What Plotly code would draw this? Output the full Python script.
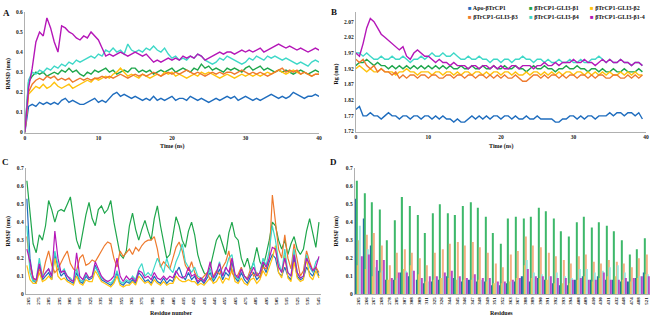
import plotly.graph_objects as go

names = ["Apo-βTrCP1", "βTrCP1-GLI3-β1", "βTrCP1-GLI3-β2",
         "βTrCP1-GLI3-β3", "βTrCP1-GLI3-β4", "βTrCP1-GLI3-β1-4"]
line_colors = ["#1F6DBE", "#1FA64C", "#FFC20E", "#EE7A2E", "#3FD8C8", "#B517B8"]
bar_colors = ["#2463A8", "#3DB86A", "#E3C85A", "#F4B183", "#9FE6DC", "#B84BC8"]

# ---------- Panel A: RMSD vs time ----------
time_a = [i * 0.5 for i in range(81)]
rmsd_apo = [0.0,0.13,0.14,0.13,0.15,0.14,0.15,0.14,0.15,0.14,0.16,0.17,0.15,0.16,0.15,0.14,0.14,0.15,0.16,0.17,0.15,0.16,0.15,0.17,0.19,0.2,0.18,0.19,0.18,0.17,0.18,0.17,0.16,0.17,0.16,0.18,0.16,0.17,0.16,0.17,0.18,0.16,0.17,0.17,0.16,0.18,0.17,0.16,0.17,0.16,0.15,0.16,0.17,0.16,0.17,0.18,0.17,0.18,0.16,0.17,0.18,0.17,0.16,0.17,0.16,0.17,0.18,0.19,0.18,0.17,0.18,0.17,0.18,0.2,0.19,0.18,0.17,0.18,0.18,0.19,0.18]
rmsd_b1 = [0.0,0.25,0.28,0.3,0.29,0.3,0.28,0.29,0.3,0.29,0.31,0.3,0.32,0.3,0.31,0.29,0.28,0.3,0.29,0.31,0.3,0.31,0.32,0.3,0.31,0.29,0.3,0.31,0.3,0.32,0.32,0.3,0.31,0.3,0.31,0.29,0.3,0.31,0.3,0.31,0.32,0.3,0.31,0.32,0.31,0.3,0.32,0.31,0.34,0.32,0.33,0.31,0.32,0.31,0.3,0.32,0.31,0.32,0.31,0.3,0.32,0.33,0.31,0.32,0.33,0.31,0.32,0.31,0.3,0.31,0.3,0.31,0.3,0.29,0.3,0.31,0.3,0.29,0.3,0.31,0.3]
rmsd_b2 = [0.0,0.19,0.21,0.23,0.22,0.24,0.22,0.23,0.25,0.23,0.22,0.23,0.24,0.22,0.23,0.24,0.25,0.26,0.25,0.27,0.26,0.27,0.28,0.27,0.29,0.3,0.32,0.3,0.28,0.29,0.28,0.27,0.29,0.28,0.27,0.28,0.29,0.28,0.3,0.29,0.3,0.28,0.29,0.28,0.27,0.28,0.29,0.28,0.3,0.29,0.3,0.29,0.28,0.27,0.28,0.29,0.28,0.27,0.28,0.29,0.28,0.29,0.28,0.29,0.28,0.29,0.3,0.29,0.3,0.31,0.3,0.29,0.3,0.31,0.3,0.29,0.3,0.29,0.28,0.29,0.29]
rmsd_b3 = [0.0,0.2,0.24,0.26,0.27,0.26,0.28,0.27,0.28,0.26,0.27,0.26,0.27,0.25,0.26,0.27,0.26,0.27,0.26,0.27,0.27,0.28,0.27,0.28,0.27,0.28,0.29,0.28,0.27,0.28,0.29,0.28,0.29,0.28,0.29,0.3,0.29,0.28,0.29,0.3,0.29,0.3,0.29,0.3,0.31,0.3,0.29,0.3,0.29,0.28,0.29,0.3,0.29,0.3,0.29,0.3,0.3,0.29,0.3,0.31,0.3,0.29,0.3,0.29,0.3,0.29,0.28,0.29,0.3,0.31,0.32,0.3,0.31,0.3,0.31,0.29,0.3,0.29,0.28,0.29,0.29]
rmsd_b4 = [0.0,0.26,0.3,0.29,0.31,0.3,0.32,0.31,0.33,0.32,0.34,0.33,0.35,0.34,0.36,0.35,0.36,0.37,0.38,0.37,0.39,0.38,0.41,0.4,0.42,0.4,0.41,0.39,0.44,0.41,0.4,0.41,0.4,0.42,0.41,0.43,0.41,0.4,0.42,0.39,0.37,0.38,0.36,0.37,0.36,0.38,0.37,0.39,0.38,0.36,0.35,0.34,0.35,0.37,0.36,0.38,0.37,0.36,0.35,0.34,0.35,0.37,0.36,0.38,0.37,0.36,0.38,0.37,0.38,0.37,0.36,0.37,0.36,0.35,0.34,0.35,0.34,0.33,0.35,0.36,0.35]
rmsd_b14 = [0.0,0.22,0.32,0.45,0.5,0.48,0.57,0.52,0.45,0.4,0.53,0.52,0.5,0.49,0.47,0.46,0.48,0.47,0.5,0.48,0.46,0.42,0.38,0.39,0.38,0.39,0.4,0.39,0.38,0.39,0.4,0.39,0.38,0.39,0.37,0.35,0.36,0.35,0.36,0.37,0.36,0.37,0.36,0.38,0.37,0.38,0.37,0.39,0.38,0.36,0.37,0.38,0.39,0.4,0.39,0.4,0.4,0.39,0.4,0.41,0.4,0.41,0.4,0.41,0.42,0.4,0.41,0.42,0.43,0.44,0.43,0.42,0.43,0.42,0.41,0.42,0.41,0.4,0.41,0.42,0.41]

# ---------- Panel B: Rg vs time ----------
time_b = [i * 0.5 for i in range(80)]
rg_apo = [1.79,1.8,1.77,1.77,1.78,1.77,1.77,1.76,1.77,1.78,1.77,1.77,1.76,1.77,1.77,1.76,1.77,1.77,1.76,1.77,1.77,1.76,1.77,1.76,1.77,1.76,1.76,1.75,1.76,1.75,1.75,1.76,1.77,1.76,1.77,1.76,1.77,1.76,1.77,1.77,1.76,1.77,1.77,1.76,1.77,1.76,1.76,1.77,1.76,1.76,1.77,1.76,1.76,1.76,1.76,1.75,1.75,1.76,1.76,1.77,1.77,1.76,1.77,1.76,1.77,1.77,1.76,1.77,1.77,1.77,1.78,1.77,1.78,1.78,1.77,1.78,1.78,1.77,1.78,1.76]
rg_b1 = [1.93,1.94,1.94,1.95,1.94,1.93,1.94,1.93,1.93,1.92,1.93,1.92,1.93,1.92,1.93,1.92,1.93,1.92,1.93,1.92,1.93,1.92,1.93,1.92,1.93,1.92,1.93,1.92,1.92,1.93,1.92,1.92,1.93,1.92,1.92,1.93,1.92,1.92,1.93,1.92,1.92,1.93,1.92,1.92,1.93,1.92,1.92,1.91,1.92,1.93,1.92,1.92,1.93,1.92,1.92,1.91,1.92,1.92,1.93,1.92,1.92,1.93,1.92,1.92,1.91,1.92,1.92,1.91,1.92,1.91,1.91,1.92,1.91,1.91,1.92,1.91,1.91,1.91,1.92,1.91]
rg_b2 = [1.92,1.93,1.92,1.91,1.92,1.91,1.91,1.92,1.91,1.91,1.91,1.9,1.91,1.91,1.92,1.91,1.91,1.9,1.91,1.91,1.91,1.9,1.91,1.91,1.9,1.91,1.91,1.9,1.91,1.9,1.91,1.91,1.9,1.91,1.91,1.9,1.91,1.9,1.91,1.91,1.9,1.91,1.91,1.9,1.91,1.9,1.9,1.91,1.9,1.91,1.91,1.9,1.91,1.9,1.91,1.9,1.91,1.9,1.91,1.91,1.9,1.91,1.91,1.9,1.91,1.9,1.91,1.9,1.91,1.9,1.91,1.9,1.9,1.91,1.9,1.91,1.9,1.91,1.9,1.9]
rg_b3 = [1.95,1.94,1.95,1.93,1.92,1.93,1.91,1.92,1.91,1.91,1.9,1.91,1.89,1.9,1.89,1.9,1.9,1.89,1.9,1.9,1.89,1.9,1.9,1.89,1.89,1.9,1.9,1.89,1.9,1.9,1.89,1.9,1.9,1.89,1.9,1.9,1.89,1.9,1.89,1.9,1.89,1.9,1.89,1.89,1.9,1.89,1.88,1.88,1.89,1.9,1.9,1.89,1.9,1.89,1.9,1.9,1.89,1.9,1.89,1.9,1.9,1.89,1.9,1.9,1.89,1.9,1.89,1.9,1.9,1.89,1.89,1.9,1.9,1.89,1.89,1.9,1.89,1.9,1.89,1.9]
rg_b4 = [1.97,1.97,1.96,1.97,1.96,1.95,1.95,1.96,1.95,1.95,1.96,1.95,1.95,1.96,1.95,1.94,1.95,1.95,1.96,1.95,1.96,1.97,1.96,1.96,1.97,1.96,1.96,1.97,1.96,1.95,1.95,1.96,1.95,1.95,1.96,1.95,1.95,1.94,1.95,1.95,1.94,1.95,1.95,1.94,1.95,1.95,1.96,1.95,1.95,1.94,1.95,1.95,1.94,1.95,1.94,1.94,1.95,1.94,1.94,1.95,1.94,1.94,1.95,1.94,1.94,1.95,1.95,1.96,1.95,1.94,1.95,1.94,1.94,1.95,1.94,1.94,1.93,1.94,1.94,1.93]
rg_b14 = [1.97,1.96,2.0,2.05,2.08,2.07,2.05,2.03,2.02,2.01,2.0,1.99,1.98,1.99,1.96,1.95,1.97,1.98,1.97,1.96,1.96,1.95,1.94,1.95,1.94,1.94,1.93,1.94,1.93,1.93,1.93,1.92,1.93,1.93,1.92,1.93,1.93,1.92,1.93,1.92,1.93,1.92,1.92,1.93,1.93,1.92,1.93,1.93,1.93,1.92,1.93,1.93,1.94,1.93,1.93,1.94,1.93,1.94,1.94,1.94,1.95,1.94,1.94,1.95,1.94,1.94,1.93,1.94,1.95,1.94,1.95,1.94,1.94,1.95,1.94,1.94,1.93,1.94,1.94,1.93]

# ---------- Panel C: RMSF per residue ----------
residues_c = list(range(264, 547, 3))
rmsf_apo = [0.53,0.2,0.08,0.06,0.16,0.08,0.1,0.12,0.08,0.22,0.15,0.1,0.12,0.08,0.07,0.06,0.12,0.07,0.06,0.1,0.08,0.09,0.16,0.12,0.08,0.07,0.06,0.05,0.07,0.12,0.06,0.05,0.07,0.06,0.08,0.06,0.12,0.1,0.07,0.08,0.06,0.1,0.07,0.06,0.09,0.06,0.08,0.07,0.12,0.15,0.1,0.08,0.12,0.08,0.1,0.06,0.08,0.06,0.09,0.12,0.07,0.1,0.14,0.08,0.12,0.1,0.18,0.09,0.07,0.12,0.08,0.06,0.1,0.12,0.08,0.1,0.16,0.12,0.18,0.22,0.2,0.12,0.1,0.15,0.1,0.08,0.2,0.1,0.08,0.09,0.15,0.12,0.1,0.15,0.1]
rmsf_b1 = [0.63,0.45,0.28,0.23,0.33,0.3,0.38,0.52,0.47,0.4,0.46,0.47,0.46,0.5,0.54,0.42,0.3,0.25,0.35,0.44,0.51,0.42,0.38,0.47,0.49,0.45,0.47,0.52,0.4,0.3,0.22,0.2,0.24,0.38,0.45,0.36,0.3,0.36,0.41,0.35,0.3,0.42,0.49,0.38,0.28,0.2,0.22,0.32,0.43,0.38,0.3,0.26,0.35,0.4,0.33,0.22,0.16,0.12,0.1,0.15,0.22,0.3,0.33,0.27,0.22,0.34,0.4,0.32,0.3,0.2,0.15,0.2,0.13,0.18,0.26,0.18,0.15,0.22,0.3,0.4,0.38,0.3,0.25,0.3,0.22,0.28,0.32,0.25,0.22,0.25,0.35,0.42,0.33,0.26,0.4]
rmsf_b2 = [0.16,0.08,0.06,0.06,0.12,0.07,0.08,0.1,0.08,0.2,0.1,0.08,0.09,0.07,0.06,0.05,0.1,0.06,0.05,0.08,0.07,0.07,0.13,0.1,0.07,0.06,0.05,0.04,0.06,0.1,0.05,0.04,0.05,0.05,0.07,0.05,0.1,0.08,0.06,0.07,0.05,0.08,0.06,0.05,0.07,0.05,0.06,0.06,0.1,0.08,0.07,0.07,0.08,0.07,0.07,0.05,0.06,0.05,0.07,0.09,0.06,0.07,0.1,0.06,0.09,0.08,0.14,0.07,0.06,0.09,0.06,0.05,0.08,0.09,0.06,0.08,0.13,0.1,0.15,0.2,0.27,0.12,0.09,0.22,0.09,0.07,0.18,0.09,0.07,0.08,0.2,0.1,0.08,0.13,0.09]
rmsf_b3 = [0.32,0.15,0.09,0.07,0.14,0.1,0.18,0.24,0.16,0.12,0.14,0.18,0.21,0.24,0.17,0.14,0.13,0.2,0.22,0.16,0.17,0.19,0.18,0.21,0.24,0.27,0.29,0.28,0.2,0.15,0.24,0.21,0.23,0.25,0.22,0.26,0.24,0.27,0.29,0.3,0.3,0.32,0.25,0.15,0.18,0.16,0.14,0.2,0.26,0.29,0.24,0.16,0.13,0.18,0.12,0.09,0.08,0.1,0.12,0.08,0.1,0.13,0.11,0.15,0.18,0.24,0.12,0.09,0.11,0.15,0.1,0.09,0.14,0.1,0.12,0.09,0.15,0.14,0.2,0.55,0.38,0.25,0.2,0.33,0.2,0.14,0.28,0.18,0.1,0.13,0.24,0.18,0.13,0.15,0.12]
rmsf_b4 = [0.38,0.12,0.07,0.08,0.2,0.1,0.12,0.14,0.1,0.24,0.16,0.12,0.14,0.1,0.09,0.07,0.14,0.08,0.07,0.11,0.09,0.1,0.15,0.12,0.09,0.08,0.07,0.06,0.08,0.13,0.07,0.06,0.08,0.07,0.1,0.08,0.14,0.17,0.1,0.12,0.1,0.15,0.2,0.16,0.12,0.2,0.14,0.12,0.18,0.22,0.28,0.18,0.15,0.12,0.15,0.1,0.09,0.08,0.1,0.14,0.08,0.12,0.18,0.1,0.14,0.2,0.22,0.1,0.08,0.14,0.1,0.08,0.12,0.18,0.1,0.12,0.2,0.16,0.24,0.38,0.3,0.18,0.12,0.25,0.12,0.1,0.25,0.12,0.09,0.1,0.22,0.15,0.12,0.18,0.2]
rmsf_b14 = [0.25,0.18,0.09,0.08,0.17,0.09,0.12,0.14,0.1,0.35,0.2,0.12,0.13,0.1,0.08,0.07,0.23,0.1,0.08,0.12,0.09,0.1,0.18,0.14,0.1,0.08,0.07,0.08,0.1,0.2,0.1,0.07,0.1,0.08,0.09,0.07,0.13,0.12,0.09,0.1,0.08,0.12,0.09,0.08,0.1,0.08,0.1,0.09,0.13,0.1,0.09,0.1,0.15,0.1,0.11,0.07,0.09,0.07,0.11,0.18,0.09,0.12,0.17,0.1,0.15,0.12,0.2,0.11,0.09,0.14,0.1,0.08,0.12,0.15,0.1,0.12,0.18,0.15,0.2,0.26,0.25,0.15,0.12,0.2,0.12,0.1,0.22,0.12,0.09,0.1,0.2,0.16,0.13,0.15,0.21]

# ---------- Panel D: RMSF of selected residues ----------
residues_d = ["265","266","267","268","278","285","307","308","309","311","325","326","344","345","346","347","348","349","351","352","363","367","388","389","390","391","392","393","394","408","409","410","430","431","432","448","474","488","521"]
d_apo = [0.53,0.42,0.27,0.13,0.08,0.08,0.12,0.1,0.08,0.06,0.07,0.08,0.1,0.09,0.07,0.08,0.07,0.07,0.05,0.05,0.06,0.07,0.1,0.07,0.09,0.08,0.06,0.05,0.05,0.08,0.1,0.08,0.1,0.08,0.08,0.07,0.07,0.09,0.12]
d_b1 = [0.63,0.56,0.51,0.47,0.3,0.41,0.54,0.49,0.44,0.34,0.45,0.5,0.45,0.44,0.49,0.51,0.48,0.43,0.34,0.28,0.42,0.43,0.42,0.43,0.48,0.46,0.42,0.35,0.32,0.4,0.43,0.37,0.4,0.38,0.35,0.3,0.22,0.25,0.31]
d_b2 = [0.16,0.14,0.1,0.12,0.08,0.08,0.14,0.16,0.11,0.07,0.08,0.09,0.09,0.08,0.08,0.08,0.08,0.07,0.06,0.06,0.07,0.09,0.16,0.09,0.09,0.08,0.06,0.06,0.06,0.08,0.1,0.07,0.09,0.1,0.1,0.08,0.07,0.09,0.11]
d_b3 = [0.3,0.33,0.34,0.27,0.16,0.23,0.25,0.23,0.2,0.16,0.23,0.25,0.28,0.29,0.27,0.29,0.26,0.23,0.17,0.15,0.22,0.24,0.32,0.27,0.26,0.23,0.21,0.19,0.17,0.21,0.22,0.18,0.17,0.19,0.18,0.17,0.15,0.2,0.22]
d_b4 = [0.38,0.25,0.15,0.13,0.07,0.09,0.13,0.13,0.08,0.07,0.09,0.1,0.1,0.09,0.08,0.09,0.08,0.08,0.06,0.06,0.07,0.08,0.19,0.12,0.11,0.1,0.12,0.1,0.09,0.14,0.14,0.12,0.13,0.15,0.16,0.12,0.07,0.1,0.11]
d_b14 = [0.21,0.22,0.19,0.19,0.09,0.12,0.12,0.13,0.09,0.1,0.1,0.12,0.13,0.1,0.09,0.11,0.09,0.09,0.07,0.07,0.08,0.09,0.14,0.1,0.1,0.1,0.09,0.09,0.08,0.09,0.08,0.08,0.12,0.08,0.08,0.09,0.09,0.1,0.1]

rmsd_all = [rmsd_apo, rmsd_b1, rmsd_b2, rmsd_b3, rmsd_b4, rmsd_b14]
rg_all = [rg_apo, rg_b1, rg_b2, rg_b3, rg_b4, rg_b14]
rmsf_all = [rmsf_apo, rmsf_b1, rmsf_b2, rmsf_b3, rmsf_b4, rmsf_b14]
d_all = [d_apo, d_b1, d_b2, d_b3, d_b4, d_b14]

fig = go.Figure()
for i in range(6):
    fig.add_trace(go.Scatter(x=time_a, y=rmsd_all[i], mode="lines", name=names[i],
                             line=dict(color=line_colors[i], width=1.4),
                             showlegend=False, xaxis="x", yaxis="y"))
for i in range(6):
    fig.add_trace(go.Scatter(x=time_b, y=rg_all[i], mode="lines", name=names[i],
                             line=dict(color=line_colors[i], width=1.4),
                             showlegend=False, xaxis="x2", yaxis="y2"))
for i in range(6):
    fig.add_trace(go.Scatter(x=residues_c, y=rmsf_all[i], mode="lines", name=names[i],
                             line=dict(color=line_colors[i], width=1.2),
                             showlegend=False, xaxis="x3", yaxis="y3"))
for i in range(6):
    fig.add_trace(go.Bar(x=residues_d, y=d_all[i], name=names[i],
                         marker=dict(color=bar_colors[i], line=dict(width=0)),
                         showlegend=False, xaxis="x4", yaxis="y4"))

W, H = 656, 321
def px(x):
    return x / W
def py(y):
    return 1 - y / H

tick_font = dict(family="Liberation Serif", size=5.5, color="#222222", weight="bold")
tick_font_small = dict(family="Liberation Serif", size=5, color="#222222", weight="bold")
axis_common = dict(showgrid=False, zeroline=False, showline=True, linecolor="#B0B0B0",
                   linewidth=1, ticks="")

fig.update_layout(
    width=W, height=H, margin=dict(l=0, r=0, t=0, b=0),
    paper_bgcolor="white", plot_bgcolor="white",
    barmode="group", bargap=0.12, bargroupgap=0.0,
    xaxis=dict(domain=[px(24), px(320)], range=[0, 40], tickvals=[0, 10, 20, 30, 40],
               anchor="y", tickfont=tick_font, **axis_common),
    yaxis=dict(domain=[py(132), py(9)], range=[0, 0.6],
               tickvals=[0, 0.1, 0.2, 0.3, 0.4, 0.5, 0.6],
               ticktext=["0", "0.1", "0.2", "0.3", "0.4", "0.5", "0.6"],
               anchor="x", tickfont=tick_font, **axis_common),
    xaxis2=dict(domain=[px(357), px(649)], range=[0, 40], tickvals=[0, 10, 20, 30, 40],
                anchor="y2", tickfont=tick_font, **axis_common),
    yaxis2=dict(domain=[py(131), py(9.4)], range=[1.72, 2.1],
                tickvals=[1.72, 1.77, 1.82, 1.87, 1.92, 1.97, 2.02, 2.07],
                ticktext=["1.72", "1.77", "1.82", "1.87", "1.92", "1.97", "2.02", "2.07"],
                anchor="x2", tickfont=tick_font, **axis_common),
    xaxis3=dict(domain=[px(25), px(322)], range=[263, 548],
                tickvals=list(range(265, 546, 10)), tickangle=-90,
                anchor="y3", tickfont=tick_font_small, **axis_common),
    yaxis3=dict(domain=[py(296.7), py(168.3)], range=[0, 0.7],
                tickvals=[0, 0.1, 0.2, 0.3, 0.4, 0.5, 0.6, 0.7],
                ticktext=["0", "0.1", "0.2", "0.3", "0.4", "0.5", "0.6", "0.7"],
                anchor="x3", tickfont=tick_font, **axis_common),
    xaxis4=dict(domain=[px(356), px(653)], type="category", tickangle=-90,
                anchor="y4", tickfont=tick_font_small, **axis_common),
    yaxis4=dict(domain=[py(296.7), py(168.3)], range=[0, 0.7],
                tickvals=[0, 0.1, 0.2, 0.3, 0.4, 0.5, 0.6, 0.7],
                ticktext=["0", "0.1", "0.2", "0.3", "0.4", "0.5", "0.6", "0.7"],
                anchor="x4", tickfont=tick_font, **axis_common),
)

ann = []
def add_text(x, y, text, size=6.5, angle=0, xanchor="center", yanchor="middle"):
    ann.append(dict(x=px(x), y=py(y), xref="paper", yref="paper", text=text,
                    showarrow=False, textangle=angle, xanchor=xanchor, yanchor=yanchor,
                    borderpad=0,
                    font=dict(family="Liberation Serif", size=size, color="#111111",
                              weight="bold")))

# panel letters
add_text(6, 10, "A", size=9)
add_text(335, 9, "B", size=9)
add_text(5, 162, "C", size=9)
add_text(335, 162, "D", size=9)
# axis titles
add_text(172, 146, "Time (ns)", size=6)
add_text(503, 146, "Time (ns)", size=6)
add_text(172, 316, "Residue number", size=6)
add_text(504, 316, "Residues", size=6)
add_text(8, 72, "RMSD (nm)", size=6, angle=-90)
add_text(338, 72, "Rg (nm)", size=6, angle=-90)
add_text(8, 232, "RMSF (nm)", size=6, angle=-90)
add_text(338, 232, "RMSF (nm)", size=6, angle=-90)

# legend (top right of panel B)
leg_x = [469, 530, 592]
leg_y = [5, 14]
for i in range(6):
    col = i % 3
    row = i // 3
    add_text(leg_x[col], leg_y[row],
             '<span style="color:%s">■</span> %s' % (line_colors[i], names[i]),
             size=6, xanchor="left")

fig.update_layout(annotations=ann)
fig.write_html("out.html", config={"displayModeBar": False},
               post_script="document.body.style.margin='0';document.body.style.overflow='hidden';")
